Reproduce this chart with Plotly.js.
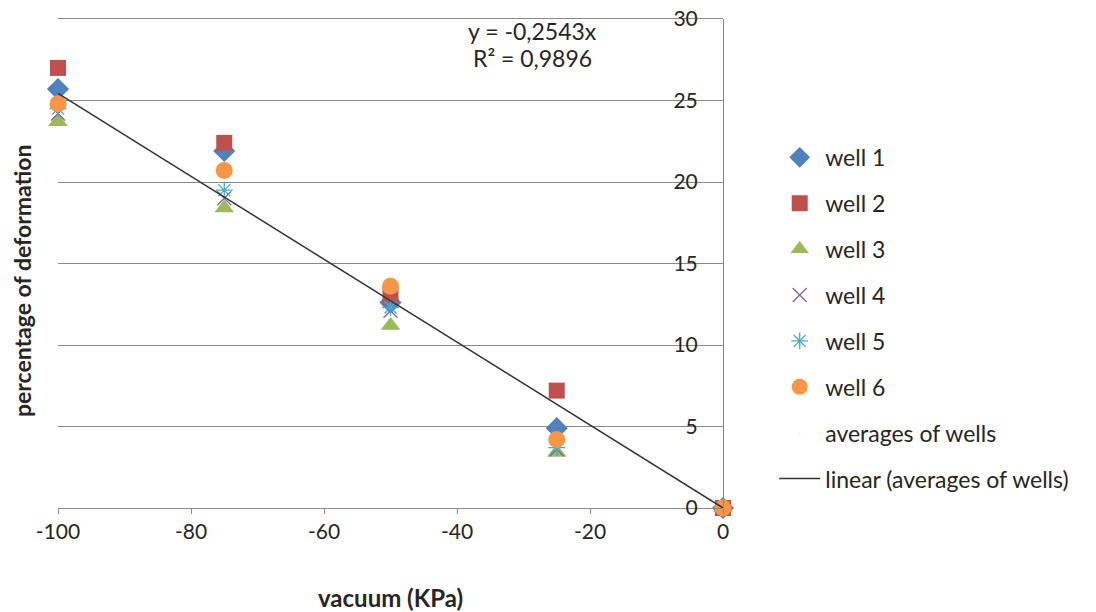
<!DOCTYPE html>
<html>
<head>
<meta charset="utf-8">
<script src="https://cdn.plot.ly/plotly-3.0.1.min.js"></script>
<style>html,body{margin:0;padding:0;background:#fff;}#chart{width:1096px;height:612px;}</style>
</head>
<body>
<div id="chart"></div>
<script>
var vacuum = [-100, -75, -50, -25, 0];
var well1 = [25.7, 21.9, 12.6, 4.9, 0];
var well2 = [27.0, 22.4, 13.1, 7.2, 0];
var well3 = [23.7, 18.4, 11.2, 3.4, 0];
var well4 = [24.2, 19.0, 12.1, 3.6, 0];
var well5 = [24.5, 19.5, 12.3, 3.7, 0];
var well6 = [24.8, 20.7, 13.6, 4.2, 0];
var averages = [25.0, 20.3, 12.5, 4.5, 0];
var trendX = [-100, 0];
var trendY = [25.43, 0];
var xTicks = [-100, -80, -60, -40, -20, 0];
var yTicks = [0, 5, 10, 15, 20, 25, 30];

var FONT = 'Lato, "Open Sans", sans-serif';
var TXT = '#262626';
function sc(name, y, symbol, color, size, open) {
  var m = {symbol: symbol, color: color, size: size};
  if (open) { m.line = {color: color, width: 1.3}; }
  return {x: vacuum, y: y, name: name, type: 'scatter', mode: 'markers',
          marker: m, cliponaxis: false, legendgroup: name};
}
var data = [
  sc('well 1', well1, 'diamond', '#4F81BD', 17),
  sc('well 2', well2, 'square', '#C0504D', 16),
  sc('well 3', well3, 'triangle-up', '#9BBB59', 17),
  sc('well 4', well4, 'x-thin-open', '#8064A2', 14, true),
  sc('well 5', well5, 'asterisk-open', '#4BACC6', 14, true),
  sc('well 6', well6, 'circle', '#F79646', 17),
  {x: vacuum, y: averages, name: 'averages of wells', type: 'scatter', mode: 'markers',
   marker: {size: 1, opacity: 0}, legendgroup: 'avg', cliponaxis: false},
  {x: trendX, y: trendY, name: 'linear (averages of wells)', type: 'scatter', mode: 'lines',
   line: {color: '#333333', width: 1.5}, legendgroup: 'lin', cliponaxis: false}
];
var layout = {
  width: 1096, height: 612,
  margin: {l: 58, r: 373, t: 19, b: 104},
  paper_bgcolor: '#fff', plot_bgcolor: '#fff',
  font: {family: FONT, size: 21, color: TXT},
  showlegend: true,
  legend: {x: 1.077, xanchor: 'left', y: 0.761, yanchor: 'top', tracegroupgap: 13, itemwidth: 41,
           font: {family: FONT, size: 23, color: TXT}, bgcolor: 'rgba(0,0,0,0)'},
  xaxis: {range: [-100, 0], tickvals: xTicks, ticktext: xTicks.map(String),
          showgrid: false, zeroline: false, showline: true, mirror: true,
          linecolor: '#8a8a8a', linewidth: 1,
          ticks: 'outside', ticklen: 5, tickcolor: '#8a8a8a',
          tickfont: {family: FONT, size: 21, color: TXT},
          title: {text: '<b>vacuum (KPa)</b>', font: {family: FONT, size: 24, color: TXT}, standoff: 47}},
  yaxis: {range: [0, 30], tickvals: yTicks, ticktext: yTicks.map(String),
          anchor: 'free', position: 1, side: 'left',
          showgrid: true, gridcolor: '#8a8a8a', gridwidth: 1,
          showline: true, linecolor: '#8a8a8a', linewidth: 1,
          zeroline: false, ticks: '', ticklabelstandoff: 21,
          tickfont: {family: FONT, size: 21, color: TXT}},
  annotations: [
    {xref: 'paper', yref: 'paper', x: -0.055, y: 0.465, xanchor: 'center', yanchor: 'middle',
     text: '<b>percentage of deformation</b>',
     textangle: -90, showarrow: false, font: {family: FONT, size: 23, color: TXT}},
    {xref: 'paper', yref: 'paper', x: 0.714, y: 1.0, yanchor: 'middle', xanchor: 'center',
     text: 'y = -0,2543x', showarrow: false, font: {family: FONT, size: 23, color: TXT}, yshift: -12},
    {xref: 'paper', yref: 'paper', x: 0.714, y: 1.0, yanchor: 'middle', xanchor: 'center',
     text: 'R² = 0,9896', showarrow: false, font: {family: FONT, size: 23, color: TXT}, yshift: -39}
  ]
};
Plotly.newPlot('chart', data, layout, {displayModeBar: false, staticPlot: true});
</script>
</body>
</html>
